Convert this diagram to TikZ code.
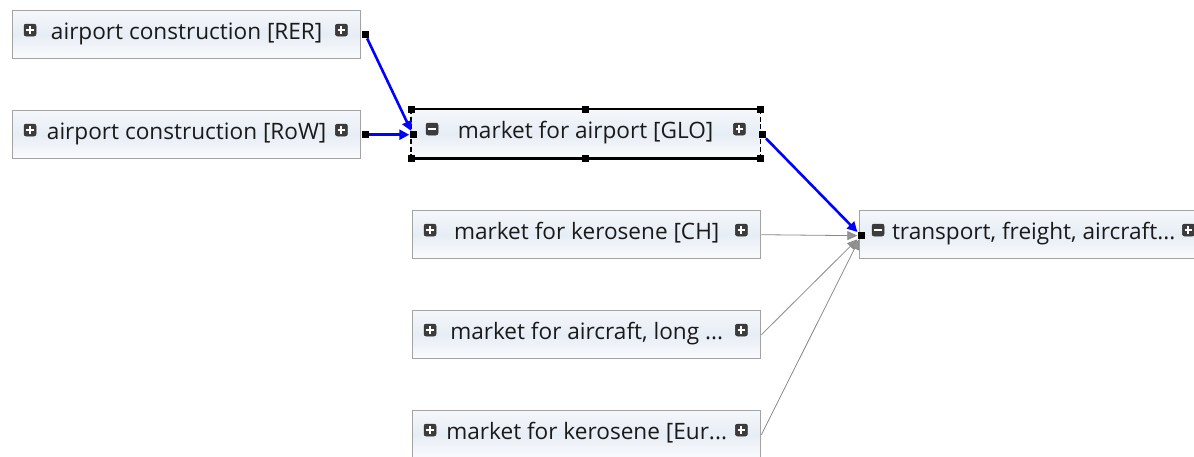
\documentclass[tikz,border=0pt]{standalone}
\usepackage{fontspec}
\setmainfont{Open Sans}
\usetikzlibrary{arrows.meta,calc}
\definecolor{boxgray}{HTML}{A3A3A3}
\definecolor{boxtop}{HTML}{F4F7FB}
\definecolor{boxmid}{HTML}{E7EDF5}
\definecolor{boxbot}{HTML}{FAFBFD}
\definecolor{icongray}{HTML}{3C3C3C}
\definecolor{txt}{HTML}{1A1A1A}
\definecolor{linkblue}{HTML}{0000FF}
\definecolor{linkgray}{HTML}{8A8A8A}
\tikzset{
  procbox/.style={draw=boxgray, line width=1.4pt, minimum width=348pt, minimum height=48pt,
    inner sep=0pt, anchor=north west, top color=boxtop, bottom color=boxbot, middle color=boxmid},
  lbl/.style={anchor=base, inner sep=0pt, text=txt, font=\fontsize{22.6}{26}\selectfont},
  iconbase/.style={fill=icongray, draw=black!80, line width=0.5pt, rounded corners=2pt,
    minimum size=12pt, inner sep=0pt},
  plusicon/.style={iconbase, path picture={
    \draw[white, line width=2pt]
      ($(path picture bounding box.center)+(-3.6,0)$) -- ($(path picture bounding box.center)+(3.6,0)$)
      ($(path picture bounding box.center)+(0,-3.6)$) -- ($(path picture bounding box.center)+(0,3.6)$);}},
  minusicon/.style={iconbase, path picture={
    \draw[white, line width=2pt]
      ($(path picture bounding box.center)+(-3.6,0)$) -- ($(path picture bounding box.center)+(3.6,0)$);}},
  handle/.style={fill=black, draw=none, minimum size=7pt, inner sep=0pt},
  selline/.style={draw=black, line width=2.2pt},
  seldash/.style={draw=black, line width=1.8pt, dash pattern=on 5pt off 2.5pt},
  blueconn/.style={draw=linkblue, line width=2.6pt, -{Triangle[length=10pt,width=10pt]}},
  grayconn/.style={draw=linkgray, line width=0.8pt, -{Triangle[length=10pt,width=9pt,fill=gray!85]}},
}
\newcommand\mkproc[6]{%
  \node[procbox] (#1) at (#2,#3) {};
  \node[lbl] (#1-t) at ($(#1.north)+(0,29)$) {#4};
  \node[#5] (#1-l) at ($(#1.north west)+(18,20)$) {};
  \node[#6] (#1-r) at ($(#1.north east)+(-20,20)$) {};
}
\begin{document}
\begin{tikzpicture}[x=1pt,y=-1pt]
\useasboundingbox (0,0) rectangle (1194,456);
\clip (0,0) rectangle (1194,456);
\fill[white] (0,0) rectangle (1194,456);

\mkproc{rer}{12}{10}{airport construction [RER]}{plusicon}{plusicon}
\mkproc{row}{12}{110}{airport construction [RoW]}{plusicon}{plusicon}
% selected box
\node[procbox, draw=none] (glo) at (411,109) {};
\node[lbl] (glo-t) at ($(glo.north)+(0,29)$) {market for airport [GLO]};
\node[minusicon] (glo-l) at ($(glo.north west)+(21,20)$) {};
\node[plusicon] (glo-r) at ($(glo.north east)+(-21,20)$) {};
\draw[selline] (glo.north west) -- (glo.north east);
\draw[selline] (glo.south west) -- (glo.south east);
\draw[seldash] (glo.north west) -- (glo.south west);
\draw[seldash] (glo.north east) -- (glo.south east);

\mkproc{kch}{412}{210}{market for kerosene [CH]}{plusicon}{plusicon}
\mkproc{al}{412}{310}{market for aircraft, long ...}{plusicon}{plusicon}
\mkproc{ke}{412}{410}{market for kerosene [Eur...}{plusicon}{plusicon}
\node[procbox] (tr) at (859,210) {};
\node[lbl] (tr-t) at ($(tr.north)+(0,29)$) {transport, freight, aircraft...};
\node[minusicon] (tr-l) at ($(tr.north west)+(19,20)$) {};
\node[plusicon] (tr-r) at ($(tr.north east)+(-20,20)$) {};

% handles
\node[handle] (rer-h) at ($(rer.east)+(4,0)$) {};
\node[handle] (row-h) at ($(row.east)+(4,0)$) {};
\node[handle] (glo-hl) at ($(glo.west)+(2,1)$) {};
\node[handle] (glo-hr) at ($(glo.east)+(2,1)$) {};
\node[handle] (glo-nw) at (glo.north west) {};
\node[handle] (glo-n) at (glo.north) {};
\node[handle] (glo-ne) at (glo.north east) {};
\node[handle] (glo-sw) at (glo.south west) {};
\node[handle] (glo-s) at (glo.south) {};
\node[handle] (glo-se) at (glo.south east) {};
\node[handle] (tr-h) at ($(tr.west)+(2,1)$) {};

% connectors
\draw[grayconn] (kch.east) -- (tr-h);
\draw[grayconn] (al.east) -- (tr-h);
\draw[grayconn] (ke.east) -- (tr-h);
\draw[blueconn] (rer-h) -- (glo-hl);
\draw[blueconn] (row-h) -- (glo-hl);
\draw[blueconn] (glo-hr) -- (tr-h);
\end{tikzpicture}
\end{document}
